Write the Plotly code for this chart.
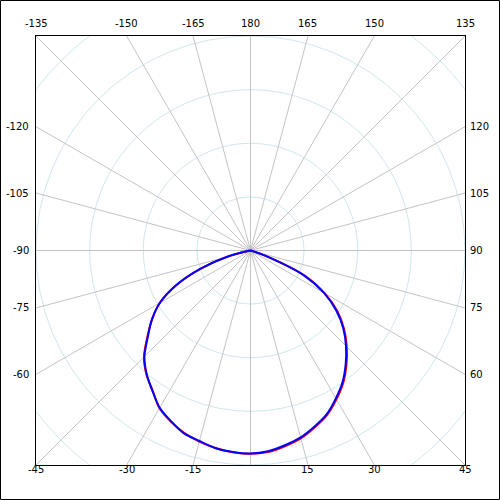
import numpy as np
import plotly.graph_objects as go

# intensity distribution, angle in degrees (0 = straight down)
angles = [-90, -85, -80, -75, -70, -65, -60, -55, -50, -45, -40, -35, -30, -25, -20, -15, -10, -5,
          0, 5, 10, 15, 20, 25, 30, 35, 40, 45, 50, 55, 60, 65, 70, 75, 80, 85, 90]
plane_red = [0, 0, 2.2, 22.9, 49.8, 76.2, 97.9, 112.0, 125.6, 140.5, 150.9, 159.2, 169.8, 175.9, 181.0, 184.4, 187.0, 188.9,
             189.6, 188.6, 185.3, 181.4, 175.5, 169.2, 160.3, 150.8, 139.3, 127.0, 113.9, 98.9, 80.0, 56.3, 17.4, 2.1, 0, 0, 0]
plane_blue = [0, 0, 1.9, 22.4, 49.4, 76.5, 97.4, 112.3, 124.9, 139.9, 150.6, 159.6, 169.3, 175.5, 181.4, 183.9, 187.2, 188.5,
              189.3, 187.9, 184.4, 180.4, 174.6, 168.3, 159.2, 149.7, 138.1, 125.9, 113.0, 97.8, 79.1, 55.4, 16.8, 1.9, 0, 0, 0]

grid_angles = list(range(-180, 180, 15))
grid_radii = [50, 100, 150, 200, 250]
label_angles = [-135, -150, -165, 180, 165, 150, 135,
                -120, -105, -90, -75, -60,
                120, 105, 90, 75, 60,
                -45, -30, -15, 15, 30, 45]
rmax = 200


def to_xy(theta, r):
    t = np.radians(np.asarray(theta, dtype=float))
    r = np.asarray(r, dtype=float)
    return r * np.sin(t), -r * np.cos(t)


fig = go.Figure()

# radial grid lines
for a in grid_angles:
    gx, gy = to_xy([a, a], [0, 400])
    fig.add_trace(go.Scatter(x=gx, y=gy, mode='lines', line=dict(color='#c4c4c4', width=1),
                             hoverinfo='skip', showlegend=False))

# circles
for rr in grid_radii:
    fig.add_shape(type='circle', xref='x', yref='y', x0=-rr, y0=-rr, x1=rr, y1=rr,
                  line=dict(color='#cfe7ee', width=1), layer='below')

for vals, col in [(plane_red, '#ff0000'), (plane_blue, '#0000ff')]:
    cx, cy = to_xy(angles, vals)
    fig.add_trace(go.Scatter(x=cx, y=cy, mode='lines', line=dict(color=col, width=2, shape='spline', smoothing=0.8),
                             showlegend=False))

# angle labels around the frame
for a in label_angles:
    sx, sy = to_xy([a], [1])
    sx, sy = float(sx[0]), float(sy[0])
    k = rmax / max(abs(sx), abs(sy))
    px, py = sx * k, sy * k
    ann = dict(x=px, y=py, text=str(a), showarrow=False, font=dict(family='DejaVu Sans', size=10, color='black'))
    if abs(sy) >= abs(sx) - 1e-9:
        if sy > 0:
            ann.update(yanchor='bottom', xanchor='center', yshift=5)
        else:
            ann.update(yanchor='top', xanchor='center', yshift=3)
    elif sx < 0:
        ann.update(xanchor='right', yanchor='middle', xshift=-5)
    else:
        ann.update(xanchor='left', yanchor='middle', xshift=3)
    fig.add_annotation(**ann)

# outer border of the image
fig.add_shape(type='rect', xref='paper', yref='paper',
              x0=(0.5 - 36) / 429, x1=(499.5 - 36) / 429,
              y0=(465 - 499.5) / 429, y1=(465 - 0.5) / 429,
              line=dict(color='black', width=1))

fig.update_xaxes(range=[-rmax, rmax], showgrid=False, zeroline=False, showticklabels=False, ticks='',
                 showline=True, mirror=True, linecolor='black', linewidth=1, fixedrange=True)
fig.update_yaxes(range=[-rmax, rmax], showgrid=False, zeroline=False, showticklabels=False, ticks='',
                 showline=True, mirror=True, linecolor='black', linewidth=1, fixedrange=True)
fig.update_layout(width=500, height=500, margin=dict(l=36, r=35, t=36, b=35),
                  paper_bgcolor='white', plot_bgcolor='white', showlegend=False)

fig.write_html("out.html", config={'displayModeBar': False},
               post_script="document.body.style.margin='0';")
